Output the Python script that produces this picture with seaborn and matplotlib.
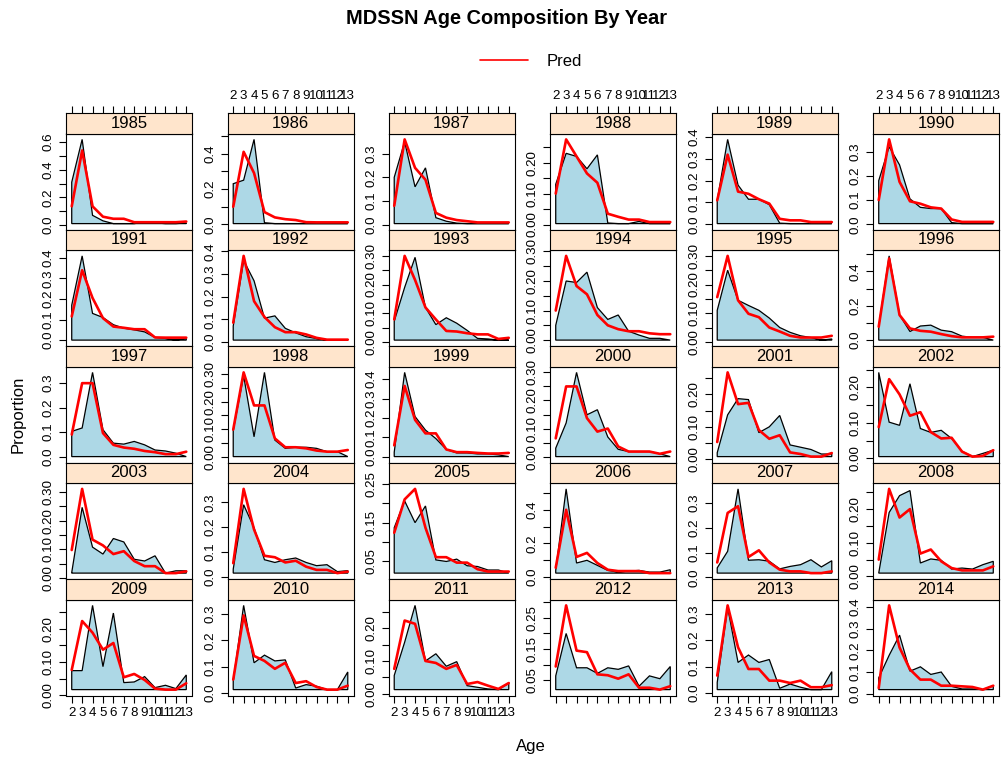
import math
import numpy as np
import pandas as pd
import matplotlib
matplotlib.use("Agg")
import matplotlib.pyplot as plt
from matplotlib.lines import Line2D
import seaborn as sns

years = list(range(1985, 2015))
ages = list(range(2, 14))

# observed proportions at age (ages 2..13)
obs_1985 = [0.31, 0.62, 0.07, 0.03, 0.01, 0.01, 0.01, 0.02, 0.015, 0.01, 0.01, 0.015]
obs_1986 = [0.23, 0.25, 0.48, 0.01, 0.005, 0.005, 0.005, 0.005, 0.005, 0.005, 0.005, 0.005]
obs_1987 = [0.20, 0.35, 0.16, 0.24, 0.03, 0.015, 0.007, 0.005, 0.005, 0.005, 0.005, 0.005]
obs_1988 = [0.13, 0.23, 0.22, 0.18, 0.225, 0.005, 0.003, 0.003, 0.01, 0.003, 0.003, 0.003]
obs_1989 = [0.11, 0.39, 0.18, 0.115, 0.115, 0.09, 0.005, 0.003, 0.003, 0.003, 0.003, 0.003]
obs_1990 = [0.18, 0.32, 0.245, 0.105, 0.07, 0.065, 0.065, 0.007, 0.003, 0.003, 0.003, 0.003]
obs_1991 = [0.17, 0.41, 0.13, 0.11, 0.075, 0.058, 0.05, 0.04, 0.013, 0.008, 0.0, 0.008]
obs_1992 = [0.07, 0.36, 0.27, 0.105, 0.115, 0.06, 0.04, 0.023, 0.015, 0.008, 0.008, 0.008]
obs_1993 = [0.072, 0.19, 0.295, 0.12, 0.06, 0.084, 0.065, 0.04, 0.012, 0.01, 0.006, 0.006]
obs_1994 = [0.05, 0.20, 0.195, 0.23, 0.11, 0.07, 0.085, 0.03, 0.017, 0.006, 0.006, 0.0]
obs_1995 = [0.11, 0.25, 0.145, 0.127, 0.11, 0.083, 0.05, 0.033, 0.021, 0.015, 0.006, 0.01]
obs_1996 = [0.078, 0.49, 0.146, 0.05, 0.082, 0.087, 0.058, 0.049, 0.023, 0.016, 0.016, 0.0]
obs_1997 = [0.103, 0.117, 0.344, 0.11, 0.055, 0.051, 0.062, 0.048, 0.027, 0.023, 0.014, 0.0]
obs_1998 = [0.096, 0.294, 0.072, 0.306, 0.06, 0.03, 0.034, 0.034, 0.03, 0.018, 0.018, 0.0]
obs_1999 = [0.023, 0.435, 0.207, 0.137, 0.093, 0.037, 0.019, 0.019, 0.014, 0.014, 0.009, 0.0]
obs_2000 = [0.03, 0.12, 0.30, 0.149, 0.167, 0.07, 0.026, 0.018, 0.018, 0.018, 0.01, 0.0]
obs_2001 = [0.02, 0.137, 0.187, 0.184, 0.082, 0.10, 0.135, 0.044, 0.037, 0.03, 0.016, 0.016]
obs_2002 = [0.242, 0.102, 0.093, 0.21, 0.084, 0.073, 0.079, 0.056, 0.02, 0.005, 0.014, 0.023]
obs_2003 = [0.02, 0.246, 0.108, 0.084, 0.138, 0.126, 0.066, 0.06, 0.078, 0.018, 0.026, 0.026]
obs_2004 = [0.03, 0.29, 0.197, 0.068, 0.057, 0.068, 0.075, 0.057, 0.044, 0.048, 0.02, 0.024]
obs_2005 = [0.137, 0.206, 0.15, 0.193, 0.054, 0.05, 0.056, 0.039, 0.037, 0.028, 0.028, 0.02]
obs_2006 = [0.04, 0.524, 0.084, 0.10, 0.07, 0.04, 0.03, 0.036, 0.04, 0.03, 0.03, 0.044]
obs_2007 = [0.038, 0.105, 0.357, 0.069, 0.071, 0.065, 0.034, 0.044, 0.051, 0.071, 0.042, 0.067]
obs_2008 = [0.01, 0.19, 0.24, 0.255, 0.04, 0.052, 0.048, 0.022, 0.025, 0.022, 0.035, 0.045]
obs_2009 = [0.074, 0.074, 0.27, 0.086, 0.247, 0.038, 0.04, 0.056, 0.023, 0.03, 0.02, 0.061]
obs_2010 = [0.045, 0.333, 0.115, 0.144, 0.122, 0.126, 0.019, 0.032, 0.026, 0.013, 0.013, 0.08]
obs_2011 = [0.056, 0.157, 0.269, 0.10, 0.122, 0.084, 0.098, 0.025, 0.02, 0.015, 0.013, 0.033]
obs_2012 = [0.064, 0.20, 0.09, 0.09, 0.072, 0.09, 0.085, 0.096, 0.031, 0.064, 0.055, 0.094]
obs_2013 = [0.04, 0.325, 0.116, 0.144, 0.116, 0.127, 0.018, 0.034, 0.022, 0.013, 0.013, 0.081]
obs_2014 = [0.073, 0.177, 0.27, 0.104, 0.124, 0.089, 0.10, 0.034, 0.022, 0.022, 0.019, 0.037]

# predicted proportions at age
pred_1985 = [0.135, 0.54, 0.135, 0.06, 0.045, 0.045, 0.02, 0.02, 0.02, 0.02, 0.02, 0.025]
pred_1986 = [0.10, 0.41, 0.29, 0.07, 0.04, 0.03, 0.025, 0.013, 0.012, 0.012, 0.012, 0.012]
pred_1987 = [0.08, 0.36, 0.24, 0.19, 0.05, 0.03, 0.02, 0.015, 0.01, 0.01, 0.01, 0.01]
pred_1988 = [0.10, 0.275, 0.22, 0.165, 0.135, 0.035, 0.025, 0.016, 0.016, 0.008, 0.008, 0.008]
pred_1989 = [0.11, 0.32, 0.15, 0.14, 0.115, 0.095, 0.025, 0.018, 0.018, 0.01, 0.01, 0.01]
pred_1990 = [0.10, 0.35, 0.175, 0.095, 0.085, 0.07, 0.065, 0.02, 0.01, 0.01, 0.01, 0.01]
pred_1991 = [0.115, 0.34, 0.205, 0.107, 0.066, 0.06, 0.053, 0.053, 0.013, 0.012, 0.012, 0.012]
pred_1992 = [0.085, 0.38, 0.18, 0.11, 0.065, 0.043, 0.043, 0.033, 0.018, 0.01, 0.01, 0.01]
pred_1993 = [0.078, 0.30, 0.216, 0.12, 0.078, 0.038, 0.036, 0.03, 0.026, 0.026, 0.01, 0.014]
pred_1994 = [0.10, 0.285, 0.183, 0.155, 0.085, 0.05, 0.037, 0.03, 0.03, 0.023, 0.02, 0.02]
pred_1995 = [0.156, 0.30, 0.145, 0.098, 0.086, 0.05, 0.036, 0.021, 0.015, 0.015, 0.015, 0.021]
pred_1996 = [0.078, 0.475, 0.146, 0.068, 0.054, 0.049, 0.035, 0.023, 0.016, 0.016, 0.016, 0.02]
pred_1997 = [0.09, 0.30, 0.30, 0.096, 0.048, 0.037, 0.032, 0.023, 0.018, 0.01, 0.01, 0.02]
pred_1998 = [0.098, 0.306, 0.186, 0.186, 0.066, 0.034, 0.034, 0.03, 0.022, 0.018, 0.018, 0.024]
pred_1999 = [0.058, 0.365, 0.19, 0.12, 0.12, 0.037, 0.023, 0.023, 0.019, 0.016, 0.016, 0.019]
pred_2000 = [0.065, 0.25, 0.25, 0.137, 0.089, 0.10, 0.036, 0.018, 0.018, 0.018, 0.01, 0.018]
pred_2001 = [0.053, 0.268, 0.17, 0.174, 0.09, 0.063, 0.074, 0.021, 0.016, 0.008, 0.008, 0.019]
pred_2002 = [0.088, 0.223, 0.18, 0.12, 0.13, 0.074, 0.056, 0.058, 0.019, 0.005, 0.007, 0.023]
pred_2003 = [0.098, 0.31, 0.134, 0.114, 0.084, 0.094, 0.06, 0.042, 0.042, 0.018, 0.018, 0.024]
pred_2004 = [0.054, 0.354, 0.19, 0.084, 0.078, 0.057, 0.064, 0.04, 0.027, 0.027, 0.014, 0.02]
pred_2005 = [0.124, 0.21, 0.237, 0.137, 0.061, 0.061, 0.047, 0.047, 0.03, 0.024, 0.024, 0.024]
pred_2006 = [0.056, 0.40, 0.12, 0.144, 0.084, 0.044, 0.036, 0.036, 0.036, 0.024, 0.024, 0.024]
pred_2007 = [0.06, 0.26, 0.287, 0.082, 0.109, 0.06, 0.031, 0.024, 0.024, 0.017, 0.017, 0.024]
pred_2008 = [0.05, 0.26, 0.175, 0.20, 0.068, 0.08, 0.045, 0.025, 0.018, 0.018, 0.018, 0.03]
pred_2009 = [0.076, 0.223, 0.188, 0.137, 0.157, 0.054, 0.064, 0.046, 0.02, 0.017, 0.017, 0.036]
pred_2010 = [0.051, 0.295, 0.141, 0.122, 0.092, 0.115, 0.038, 0.045, 0.023, 0.013, 0.013, 0.028]
pred_2011 = [0.076, 0.223, 0.213, 0.10, 0.094, 0.076, 0.088, 0.03, 0.036, 0.025, 0.015, 0.033]
pred_2012 = [0.094, 0.29, 0.145, 0.14, 0.069, 0.066, 0.055, 0.069, 0.026, 0.026, 0.02, 0.031]
pred_2013 = [0.066, 0.332, 0.173, 0.091, 0.091, 0.047, 0.047, 0.038, 0.047, 0.022, 0.022, 0.03]
pred_2014 = [0.026, 0.407, 0.213, 0.112, 0.065, 0.065, 0.037, 0.037, 0.034, 0.031, 0.019, 0.037]

obs_all = [obs_1985, obs_1986, obs_1987, obs_1988, obs_1989, obs_1990,
           obs_1991, obs_1992, obs_1993, obs_1994, obs_1995, obs_1996,
           obs_1997, obs_1998, obs_1999, obs_2000, obs_2001, obs_2002,
           obs_2003, obs_2004, obs_2005, obs_2006, obs_2007, obs_2008,
           obs_2009, obs_2010, obs_2011, obs_2012, obs_2013, obs_2014]
pred_all = [pred_1985, pred_1986, pred_1987, pred_1988, pred_1989, pred_1990,
            pred_1991, pred_1992, pred_1993, pred_1994, pred_1995, pred_1996,
            pred_1997, pred_1998, pred_1999, pred_2000, pred_2001, pred_2002,
            pred_2003, pred_2004, pred_2005, pred_2006, pred_2007, pred_2008,
            pred_2009, pred_2010, pred_2011, pred_2012, pred_2013, pred_2014]

rows = []
for yr, o, p in zip(years, obs_all, pred_all):
    for a, ov, pv in zip(ages, o, p):
        rows.append({"Year": yr, "Age": a, "Obs": ov, "Pred": pv})
df = pd.DataFrame(rows)


def pretty(lo, hi, n=5):
    # rough port of R's pretty() unit choice
    cell = (hi - lo) / n
    U = 10 ** math.floor(math.log10(cell))
    unit = U
    h, h5 = 1.5, 0.5 + 1.5 * 1.5
    if 2 * U - cell < h * (cell - unit):
        unit = 2 * U
        if 5 * U - cell < h5 * (cell - unit):
            unit = 5 * U
            if 10 * U - cell < h * (cell - unit):
                unit = 10 * U
    k0 = math.ceil(lo / unit - 1e-9)
    k1 = math.floor(hi / unit + 1e-9)
    ticks = [round(k * unit, 10) + 0.0 for k in range(k0, k1 + 1)]
    dec = max(0, -math.floor(math.log10(unit) + 1e-9))
    return ticks, dec


W, H = 1002, 760
col_left = [66, 227.5, 388.5, 550, 711.5, 873]
panel_w = 126
row_top = [113, 229.5, 346, 462.5, 579]
strip_h = 20.5
plot_h = 96
TICK_FS = 9.6
MAIN_FS = 12


def box(l, t, w, h):
    return [l / W, 1 - (t + h) / H, w / W, h / H]


def text_w(s, fs):
    em = fs * 100 / 72
    return sum(0.278 if ch == "." else 0.556 for ch in s) * em


sns.set_style("ticks")
plt.rcParams["font.family"] = ["Liberation Sans", "DejaVu Sans"]
plt.rcParams["axes.linewidth"] = 0.8
plt.rcParams["text.color"] = "black"
plt.rcParams["xtick.color"] = "black"
plt.rcParams["ytick.color"] = "black"
plt.rcParams["xtick.labelcolor"] = "black"
plt.rcParams["ytick.labelcolor"] = "black"

fig = plt.figure(figsize=(10.02, 7.6), dpi=100)
xlim = (ages[0] - 0.55, ages[-1] + 0.55)

for i, yr in enumerate(years):
    r, c = divmod(i, 6)
    d = df[df.Year == yr]
    ax = fig.add_axes(box(col_left[c], row_top[r] + strip_h, panel_w, plot_h))
    sax = fig.add_axes(box(col_left[c], row_top[r], panel_w, strip_h))

    lo = min(d.Obs.min(), d.Pred.min())
    hi = max(d.Obs.max(), d.Pred.max())
    pad = 0.07 * (hi - lo)
    ylim = (lo - pad, hi + pad)

    # observed: filled polygon down to the minimum
    xs = np.r_[d.Age.iloc[0], d.Age.values, d.Age.iloc[-1]]
    ys = np.r_[lo, d.Obs.values, lo]
    ax.fill(xs, ys, facecolor="#ADD8E6", edgecolor="black", lw=0.9, zorder=2)
    sns.lineplot(data=d, x="Age", y="Pred", color="red", lw=1.9, ax=ax,
                 legend=False, zorder=3)
    ax.set_xlim(xlim)
    ax.set_ylim(ylim)
    ax.set_xlabel("")
    ax.set_ylabel("")

    # y axis ticks with overlap check like lattice
    ticks, dec = pretty(ylim[0], ylim[1])
    labels = []
    last_end = -1e9
    for t in ticks:
        lab = f"{t:.{dec}f}"
        pos = (t - ylim[0]) / (ylim[1] - ylim[0]) * plot_h
        w = text_w(lab, TICK_FS)
        if pos - w / 2 >= last_end:
            labels.append(lab)
            last_end = pos + w / 2
        else:
            labels.append("")
    ax.set_yticks(ticks)
    ax.set_yticklabels(labels, rotation=90, va="center", fontsize=TICK_FS)
    ax.tick_params(axis="y", direction="out", length=5, width=0.8, pad=3,
                   colors="black", left=True, right=False)

    if r == 4:
        ax.set_xticks(ages)
        ax.set_xticklabels([str(a) if c % 2 == 0 else "" for a in ages],
                           fontsize=TICK_FS)
        ax.tick_params(axis="x", direction="out", length=5, width=0.8, pad=3,
                       colors="black", bottom=True, top=False)
    else:
        ax.set_xticks([])

    for s in ax.spines.values():
        s.set_color("black")
        s.set_visible(True)

    sax.set_facecolor("#FFE5CC")
    sax.set_xlim(xlim)
    sax.set_yticks([])
    if r == 0:
        sax.set_xticks(ages)
        sax.xaxis.tick_top()
        sax.set_xticklabels([str(a) if c % 2 == 1 else "" for a in ages],
                            fontsize=TICK_FS)
        sax.tick_params(axis="x", direction="out", length=5, width=0.8, pad=3,
                        colors="black", top=True, bottom=False)
    else:
        sax.set_xticks([])
    for s in sax.spines.values():
        s.set_color("black")
        s.set_visible(True)
    sax.text(0.5, 0.5, str(yr), transform=sax.transAxes, ha="center",
             va="center", fontsize=MAIN_FS, color="black")

fig.text(506 / W, 1 - 18.5 / H, "MDSSN Age Composition By Year",
         ha="center", va="center", fontsize=14.4, fontweight="bold",
         color="black")
leg = fig.legend(handles=[Line2D([], [], color="red", lw=1.2)], labels=["Pred"],
                 loc="center", bbox_to_anchor=(531 / W, 1 - 61.5 / H),
                 frameon=False, fontsize=MAIN_FS, handlelength=2.9,
                 handletextpad=1.1)
for t in leg.get_texts():
    t.set_color("black")
fig.text(18.5 / W, 1 - 414 / H, "Proportion", rotation=90, ha="center",
         va="center", fontsize=MAIN_FS, color="black")
fig.text(531 / W, 1 - 746 / H, "Age", ha="center", va="center",
         fontsize=MAIN_FS, color="black")

fig.savefig("out.png", dpi=100, facecolor="white")
